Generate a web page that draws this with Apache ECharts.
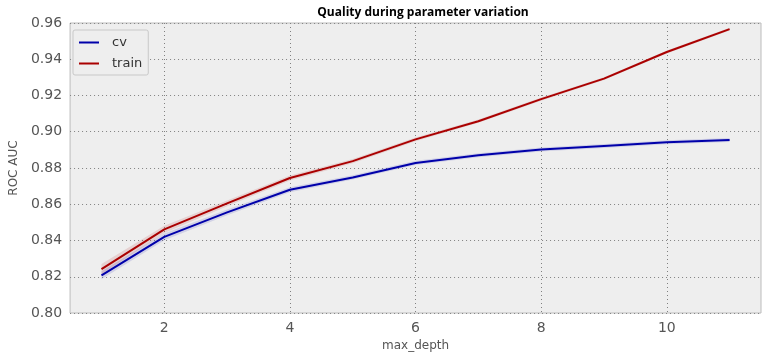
<!DOCTYPE html>
<html><head><meta charset="utf-8">
<script src="https://cdn.jsdelivr.net/npm/echarts@6/dist/echarts.min.js"></script>
<style>html,body{margin:0;padding:0;background:#fff}#c{width:768px;height:359px}</style>
</head><body><div id="c"></div>
<script>
const depths = [1,2,3,4,5,6,7,8,9,10,11];
const xTicks = [2,4,6,8,10];
const cvMean = [0.8208,0.842,0.8555,0.868,0.8748,0.8828,0.887,0.8902,0.8922,0.8942,0.8954];
const cvStd = [0.0022,0.0018,0.0016,0.0014,0.0012,0.0012,0.0011,0.0011,0.0011,0.0011,0.0011];
const trainMean = [0.8242,0.8461,0.8605,0.8745,0.8838,0.8958,0.9058,0.9180,0.9293,0.9440,0.9566];
const trainStd = [0.0028,0.0020,0.0016,0.0014,0.0012,0.0010,0.0009,0.0009,0.0008,0.0008,0.0008];

const pairs = (arr) => depths.map((d,i)=>[d,arr[i]]);
function band(mean, std, color){
  return {
    type:'custom', silent:true, z:1,
    data:[0],
    renderItem:function(params, api){
      const upper = depths.map((d,i)=>api.coord([d, mean[i]+std[i]]));
      const lower = depths.map((d,i)=>api.coord([d, mean[i]-std[i]])).reverse();
      return {type:'polygon', shape:{points:upper.concat(lower)}, style:{fill:color, opacity:0.12}};
    }
  };
}
const chart = echarts.init(document.getElementById('c'));
chart.setOption({
  animation:false,
  title:{text:'Quality during parameter variation', left:418, top:2, textAlign:'center',
    textStyle:{fontFamily:'Open Sans', fontWeight:'bold', fontSize:12, color:'#000'}},
  grid:{left:66, right:7, top:23, bottom:46, show:true, backgroundColor:'#eeeeee', borderColor:'#bcbcbc', borderWidth:1},
  legend:{data:[{name:'cv'},{name:'train'}], orient:'vertical', left:73, top:30, itemWidth:20, itemHeight:2, itemGap:8,
    padding:[6,6,5,6], backgroundColor:'#eeeeee', borderColor:'#c8c8c8', borderWidth:1, borderRadius:2,
    icon:'rect', textStyle:{fontFamily:'DejaVu Sans', fontSize:13, color:'#333', padding:[0,0,0,8]}},
  xAxis:{type:'value', min:0.5, max:11.5, name:'max_depth', nameLocation:'middle', nameGap:26,
    nameTextStyle:{fontFamily:'DejaVu Sans', fontSize:12, color:'#555'},
    axisLine:{show:false}, axisTick:{show:false, customValues:xTicks},
    axisLabel:{fontFamily:'DejaVu Sans', fontSize:14, color:'#555', margin:8, customValues:xTicks},
    splitLine:{show:true, lineStyle:{type:[1,3], color:'#808080', width:1}}},
  yAxis:{type:'value', min:0.80, max:0.96, interval:0.02, name:'ROC AUC', nameLocation:'middle', nameGap:50,
    nameTextStyle:{fontFamily:'DejaVu Sans', fontSize:12, color:'#555'},
    axisLine:{show:false}, axisTick:{show:false},
    axisLabel:{fontFamily:'DejaVu Sans', fontSize:14, color:'#555', margin:8, formatter:v=>v.toFixed(2)},
    splitLine:{show:true, lineStyle:{type:[1,3], color:'#808080', width:1}}},
  series:[
    band(cvMean, cvStd, '#0000aa'),
    band(trainMean, trainStd, '#aa0000'),
    {type:'line', name:'cv', data:pairs(cvMean), symbol:'none', lineStyle:{color:'#0000aa', width:2}, itemStyle:{color:'#0000aa'}, z:3},
    {type:'line', name:'train', data:pairs(trainMean), symbol:'none', lineStyle:{color:'#aa0000', width:2}, itemStyle:{color:'#aa0000'}, z:3}
  ]
});
</script></body></html>
